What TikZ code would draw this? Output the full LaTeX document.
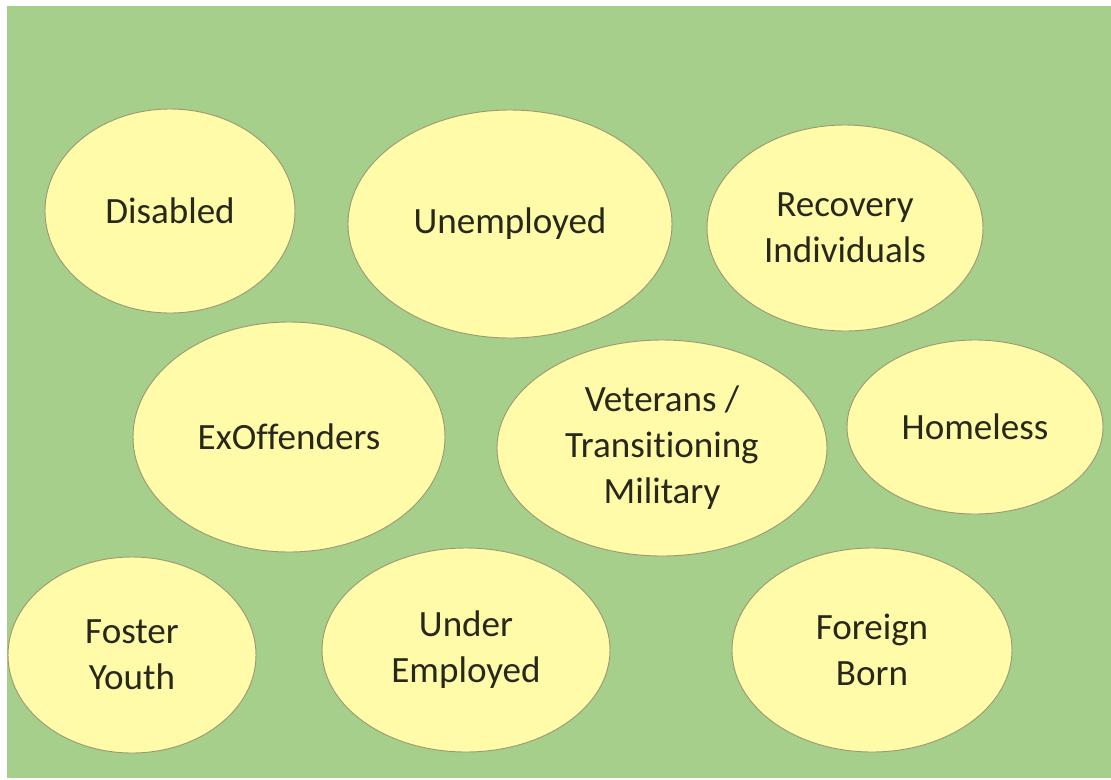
\documentclass[tikz,border=0pt]{standalone}
\usepackage{fontspec}
\setmainfont{Carlito}[Ligatures=NoCommon]
\usetikzlibrary{shapes.geometric}
\definecolor{bggreen}{HTML}{A6CF8C}
\definecolor{blobfill}{HTML}{FFFBA8}
\definecolor{blobedge}{HTML}{9C9A72}
\definecolor{txt}{HTML}{28281A}
\tikzset{
  blob/.style={ellipse, draw=blobedge, line width=0.7pt, fill=blobfill, inner sep=0pt,
    align=center, text=txt, font=\fontsize{27.8}{34.5}\selectfont}
}
\begin{document}
\begin{tikzpicture}[x=0.75pt,y=-0.75pt]
\useasboundingbox (0,0) rectangle (1111,779);
\fill[white] (0,0) rectangle (1111,779);
\fill[bggreen] (7,6) rectangle (1111,778);
\node[blob, minimum width=187.5pt, minimum height=153pt] (disabled) at (170,211) {Disabled};
\node[blob, minimum width=243pt, minimum height=171pt] (unemployed) at (510,224) {Unemployed};
\node[blob, minimum width=207pt, minimum height=154.5pt] (recovery) at (845,228) {Recovery\\Individuals};
\node[blob, minimum width=234pt, minimum height=172.5pt] (exoff) at (289,437) {ExOffenders};
\node[blob, minimum width=247.5pt, minimum height=162pt] (veterans) at (662,448) {Veterans /\\Transitioning\\Military};
\node[blob, minimum width=192pt, minimum height=130.5pt] (homeless) at (975,427) {Homeless};
\node[blob, minimum width=186pt, minimum height=147pt] (foster) at (132,655) {Foster\\Youth};
\node[blob, minimum width=216pt, minimum height=153pt] (under) at (466,650) {Under\\Employed};
\node[blob, minimum width=210pt, minimum height=153pt] (foreign) at (872,650) {Foreign\\Born};
\end{tikzpicture}
\end{document}
